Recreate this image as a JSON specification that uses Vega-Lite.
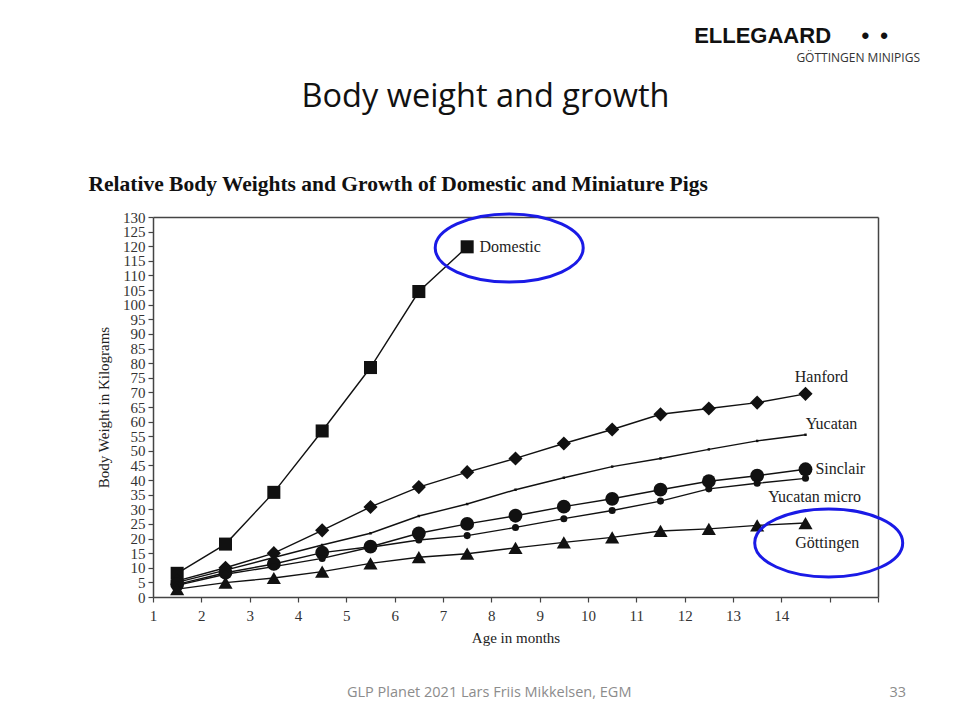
{
  "$schema": "https://vega.github.io/schema/vega-lite/v6.json",
  "width": 725,
  "height": 380,
  "autosize": {"type": "none"},
  "padding": {"left": 153, "top": 217, "right": 78, "bottom": 125},
  "background": "white",
  "title": {
    "text": "ELLEGAARD\u00a0\u00a0\u00a0\u00a0\u00a0•\u2002•\u2800\u2800",
    "subtitle": "GÖTTINGEN MINIPIGS",
    "anchor": "end",
    "frame": "group",
    "dx": 42,
    "offset": 15,
    "font": "Liberation Sans",
    "fontSize": 22,
    "fontWeight": "bold",
    "color": "#111",
    "subtitleFont": "Open Sans",
    "subtitleFontSize": 12,
    "subtitleColor": "#333",
    "subtitlePadding": 5
  },
  "datasets": {
    "growth": [
      {"series": "Domestic", "month": 1.5, "kg": 8.1},
      {"series": "Domestic", "month": 2.5, "kg": 18.1},
      {"series": "Domestic", "month": 3.5, "kg": 35.8},
      {"series": "Domestic", "month": 4.5, "kg": 56.8},
      {"series": "Domestic", "month": 5.5, "kg": 78.5},
      {"series": "Domestic", "month": 6.5, "kg": 104.5},
      {"series": "Domestic", "month": 7.5, "kg": 119.8},
      {"series": "Hanford", "month": 1.5, "kg": 5.5},
      {"series": "Hanford", "month": 2.5, "kg": 10},
      {"series": "Hanford", "month": 3.5, "kg": 15},
      {"series": "Hanford", "month": 4.5, "kg": 22.8},
      {"series": "Hanford", "month": 5.5, "kg": 30.8},
      {"series": "Hanford", "month": 6.5, "kg": 37.6},
      {"series": "Hanford", "month": 7.5, "kg": 42.7},
      {"series": "Hanford", "month": 8.5, "kg": 47.4},
      {"series": "Hanford", "month": 9.5, "kg": 52.5},
      {"series": "Hanford", "month": 10.5, "kg": 57.3},
      {"series": "Hanford", "month": 11.5, "kg": 62.5},
      {"series": "Hanford", "month": 12.5, "kg": 64.5},
      {"series": "Hanford", "month": 13.5, "kg": 66.5},
      {"series": "Hanford", "month": 14.5, "kg": 69.5},
      {"series": "Yucatan", "month": 1.5, "kg": 5},
      {"series": "Yucatan", "month": 2.5, "kg": 9.2},
      {"series": "Yucatan", "month": 3.5, "kg": 13.5},
      {"series": "Yucatan", "month": 4.5, "kg": 17.8},
      {"series": "Yucatan", "month": 5.5, "kg": 21.8},
      {"series": "Yucatan", "month": 6.5, "kg": 27.7},
      {"series": "Yucatan", "month": 7.5, "kg": 31.8},
      {"series": "Yucatan", "month": 8.5, "kg": 36.7},
      {"series": "Yucatan", "month": 9.5, "kg": 40.8},
      {"series": "Yucatan", "month": 10.5, "kg": 44.6},
      {"series": "Yucatan", "month": 11.5, "kg": 47.4},
      {"series": "Yucatan", "month": 12.5, "kg": 50.5},
      {"series": "Yucatan", "month": 13.5, "kg": 53.4},
      {"series": "Yucatan", "month": 14.5, "kg": 55.5},
      {"series": "Sinclair", "month": 1.5, "kg": 4.3},
      {"series": "Sinclair", "month": 2.5, "kg": 8.3},
      {"series": "Sinclair", "month": 3.5, "kg": 11.3},
      {"series": "Sinclair", "month": 4.5, "kg": 15.2},
      {"series": "Sinclair", "month": 5.5, "kg": 17.2},
      {"series": "Sinclair", "month": 6.5, "kg": 21.8},
      {"series": "Sinclair", "month": 7.5, "kg": 25},
      {"series": "Sinclair", "month": 8.5, "kg": 27.8},
      {"series": "Sinclair", "month": 9.5, "kg": 30.9},
      {"series": "Sinclair", "month": 10.5, "kg": 33.6},
      {"series": "Sinclair", "month": 11.5, "kg": 36.7},
      {"series": "Sinclair", "month": 12.5, "kg": 39.6},
      {"series": "Sinclair", "month": 13.5, "kg": 41.5},
      {"series": "Sinclair", "month": 14.5, "kg": 43.7},
      {"series": "Yucatan micro", "month": 1.5, "kg": 4},
      {"series": "Yucatan micro", "month": 2.5, "kg": 7.8},
      {"series": "Yucatan micro", "month": 3.5, "kg": 10.4},
      {"series": "Yucatan micro", "month": 4.5, "kg": 13.2},
      {"series": "Yucatan micro", "month": 5.5, "kg": 17},
      {"series": "Yucatan micro", "month": 6.5, "kg": 19.5},
      {"series": "Yucatan micro", "month": 7.5, "kg": 21},
      {"series": "Yucatan micro", "month": 8.5, "kg": 23.8},
      {"series": "Yucatan micro", "month": 9.5, "kg": 26.8},
      {"series": "Yucatan micro", "month": 10.5, "kg": 29.6},
      {"series": "Yucatan micro", "month": 11.5, "kg": 32.8},
      {"series": "Yucatan micro", "month": 12.5, "kg": 37},
      {"series": "Yucatan micro", "month": 13.5, "kg": 38.9},
      {"series": "Yucatan micro", "month": 14.5, "kg": 40.6},
      {"series": "Göttingen", "month": 1.5, "kg": 2.7},
      {"series": "Göttingen", "month": 2.5, "kg": 4.9},
      {"series": "Göttingen", "month": 3.5, "kg": 6.5},
      {"series": "Göttingen", "month": 4.5, "kg": 8.7},
      {"series": "Göttingen", "month": 5.5, "kg": 11.5},
      {"series": "Göttingen", "month": 6.5, "kg": 13.6},
      {"series": "Göttingen", "month": 7.5, "kg": 14.8},
      {"series": "Göttingen", "month": 8.5, "kg": 16.8},
      {"series": "Göttingen", "month": 9.5, "kg": 18.7},
      {"series": "Göttingen", "month": 10.5, "kg": 20.4},
      {"series": "Göttingen", "month": 11.5, "kg": 22.6},
      {"series": "Göttingen", "month": 12.5, "kg": 23.3},
      {"series": "Göttingen", "month": 13.5, "kg": 24.5},
      {"series": "Göttingen", "month": 14.5, "kg": 25.3}
    ],
    "labels": [
      {"series": "Domestic", "month": 8.39, "kg": 119.7},
      {"series": "Hanford", "month": 14.83, "kg": 75.3},
      {"series": "Yucatan", "month": 15.04, "kg": 59.2},
      {"series": "Sinclair", "month": 15.22, "kg": 43.8},
      {"series": "Yucatan micro", "month": 14.69, "kg": 34.3},
      {"series": "Göttingen", "month": 14.95, "kg": 18.6}
    ],
    "highlights": [
      {"series": "Domestic", "month": 8.37, "kg": 119.4},
      {"series": "Göttingen", "month": 14.98, "kg": 18.5}
    ]
  },
  "layer": [
    {
      "data": {"name": "growth"},
      "mark": {"type": "line", "color": "#111", "strokeWidth": 1.4},
      "encoding": {
        "x": {
          "field": "month", "type": "quantitative",
          "scale": {"domain": [1, 16], "nice": false, "zero": false},
          "axis": {
            "orient": "bottom",
            "values": [1, 2, 3, 4, 5, 6, 7, 8, 9, 10, 11, 12, 13, 14, 15, 16],
            "labelExpr": "datum.value <= 14 ? datum.label : ''",
            "title": "Age in months",
            "grid": false,
            "tickSize": 5,
            "labelPadding": 6,
            "titlePadding": 7,
            "labelFlush": false
          }
        },
        "y": {
          "field": "kg", "type": "quantitative",
          "scale": {"domain": [0, 130], "nice": false},
          "axis": {
            "orient": "left",
            "values": [0, 5, 10, 15, 20, 25, 30, 35, 40, 45, 50, 55, 60, 65, 70, 75, 80, 85, 90, 95, 100, 105, 110, 115, 120, 125, 130],
            "title": "Body Weight in Kilograms",
            "grid": false,
            "tickSize": 5,
            "labelPadding": 3,
            "labelOverlap": false,
            "labelBaseline": "middle",
            "titlePadding": 11
          }
        },
        "detail": {"field": "series"}
      }
    },
    {
      "data": {"name": "growth"},
      "mark": {"type": "point", "filled": true, "color": "#111", "opacity": 1},
      "encoding": {
        "x": {"field": "month", "type": "quantitative",
          "axis": {"orient": "top", "labels": false, "ticks": false, "grid": false,
            "title": "Body weight and growth",
            "titleFont": "Open Sans", "titleFontSize": 32.5, "titleFontWeight": "normal", "titleColor": "#111",
            "titleAnchor": "start", "titleAlign": "center", "titleBaseline": "alphabetic",
            "titleX": 332, "titleY": -111}},
        "y": {"field": "kg", "type": "quantitative",
          "axis": {"orient": "right", "labels": false, "ticks": false, "grid": false,
            "title": "Relative Body Weights and Growth of Domestic and Miniature Pigs",
            "titleFont": "Liberation Serif", "titleFontSize": 21.5, "titleFontWeight": "bold", "titleColor": "#111",
            "titleAngle": 0, "titleAlign": "left", "titleBaseline": "alphabetic",
            "titleX": -790, "titleY": -27, "titleLimit": 0}},
        "shape": {
          "field": "series", "type": "nominal",
          "scale": {
            "type": "ordinal",
            "domain": ["Domestic", "Hanford", "Yucatan", "Sinclair", "Yucatan micro", "Göttingen"],
            "range": ["square", "diamond", "square", "circle", "circle", "triangle-up"]
          },
          "legend": null
        },
        "size": {
          "field": "series", "type": "nominal",
          "scale": {
            "type": "ordinal",
            "domain": ["Domestic", "Hanford", "Yucatan", "Sinclair", "Yucatan micro", "Göttingen"],
            "range": [170, 200, 6, 190, 50, 200]
          },
          "legend": null
        }
      }
    },
    {
      "data": {"name": "labels"},
      "mark": {"type": "text", "font": "Liberation Serif", "fontSize": 16, "color": "#222", "align": "center", "baseline": "middle", "clip": false},
      "encoding": {
        "x": {"field": "month", "type": "quantitative", "axis": null},
        "y": {"field": "kg", "type": "quantitative", "axis": null},
        "text": {"field": "series"}
      }
    },
    {
      "data": {"name": "highlights"},
      "mark": {"type": "point", "filled": false, "strokeWidth": 3, "opacity": 1, "size": 21904,
        "shape": "M -1 0 A 1 0.46 0 1 0 1 0 A 1 0.46 0 1 0 -1 0 Z", "clip": false},
      "encoding": {
        "x": {"field": "month", "type": "quantitative", "axis": null},
        "y": {"field": "kg", "type": "quantitative", "axis": null},
        "color": {
          "datum": "33",
          "scale": {"range": ["#1a1ae6"]},
          "legend": {
            "orient": "none",
            "legendX": 194,
            "legendY": 469,
            "direction": "horizontal",
            "title": "GLP Planet 2021 Lars Friis Mikkelsen, EGM",
            "titleOrient": "left",
            "titlePadding": 243,
            "titleLimit": 0,
            "titleFont": "Open Sans",
            "titleFontSize": 14.5,
            "titleFontWeight": "normal",
            "titleColor": "#8c8c8c",
            "labelFont": "Open Sans",
            "labelFontSize": 14.5,
            "labelColor": "#8c8c8c",
            "labelOffset": 0,
            "symbolSize": 0,
            "symbolOpacity": 0,
            "symbolStrokeWidth": 0
          }
        }
      }
    }
  ],
  "config": {
    "view": {"stroke": null},
    "axis": {
      "domainColor": "#444",
      "domainWidth": 1.5,
      "tickColor": "#444",
      "tickWidth": 1.2,
      "labelFont": "Liberation Serif",
      "labelFontSize": 15,
      "labelColor": "#333",
      "titleFont": "Liberation Serif",
      "titleFontSize": 15,
      "titleFontWeight": "normal",
      "titleColor": "#222"
    }
  }
}
